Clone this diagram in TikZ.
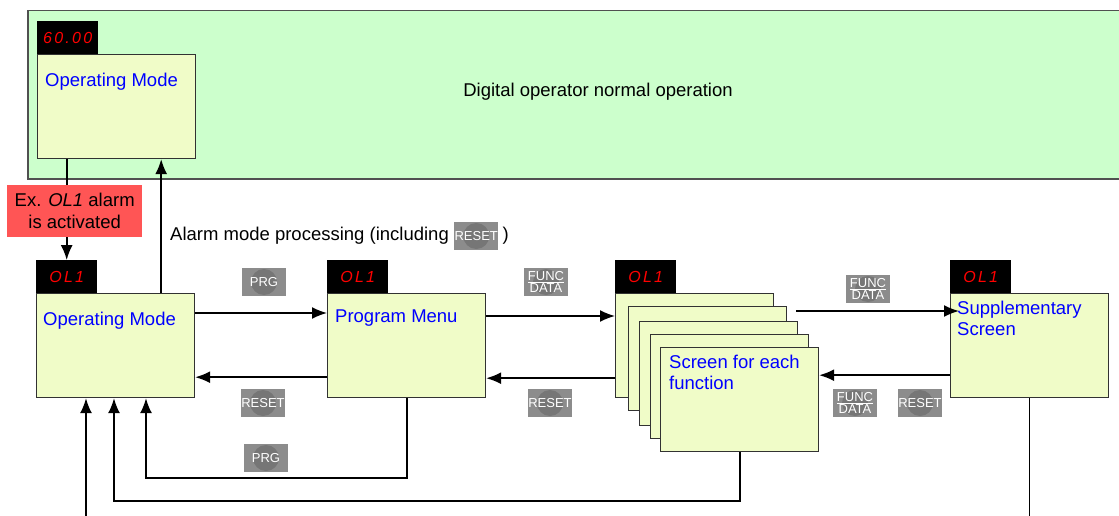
\documentclass[tikz,border=0pt]{standalone}
\usepackage{fontspec}
\setmainfont{Liberation Sans}
\usetikzlibrary{arrows.meta,positioning}

\definecolor{greenbg}{RGB}{204,255,204}
\definecolor{boxfill}{RGB}{240,252,200}
\definecolor{boxline}{RGB}{50,50,50}
\definecolor{alarmred}{RGB}{255,85,85}
\definecolor{keygray}{RGB}{140,140,140}
\definecolor{keydark}{RGB}{118,118,118}

\begin{document}
\begin{tikzpicture}[x=1pt, y=-1pt,
  disp/.style={fill=black, anchor=north west, minimum width=61pt, minimum height=33pt, inner sep=0,
    text=red, font=\fontsize{16}{18}\selectfont\itshape\addfontfeature{LetterSpace=14}},
  modebox/.style={draw=boxline, fill=boxfill, line width=1.2pt, anchor=north west,
    minimum width=158pt, minimum height=104pt, inner sep=0},
  modetext/.style={text=blue, anchor=west, align=left, inner sep=0, font=\fontsize{18.5}{21}\selectfont},
  plaintext/.style={inner sep=0, font=\fontsize{18.5}{21}\selectfont},
  keyicon/.style={fill=keygray, text=white, minimum width=44pt, minimum height=28pt, inner sep=0,
    align=center, font=\fontsize{13}{11}\selectfont,
    path picture={\fill[keydark] (path picture bounding box.center) circle (13pt);}},
  conn/.style={line width=1.6pt},
  arr/.style={line width=1.6pt, -{Latex[length=15pt,width=12pt]}}]
  \useasboundingbox (0,0) rectangle (1119,516);

  % Normal operation
  \node[draw={rgb,255:red,80;green,80;blue,80}, line width=1.5pt, fill=greenbg, anchor=north west,
    minimum width=1110pt, minimum height=168pt] (normal) at (27,10) {};
  \node[plaintext] (normaltxt) at (598,92) {Digital operator normal operation};
  \node[disp] (d1) at (37,21) {60.00};
  \node[modebox] (op1) at (37,54) {};
  \node[modetext] (op1txt) at (45,82) {Operating Mode};

  % Alarm
  \node[fill=alarmred, anchor=north west, minimum width=135pt, minimum height=52pt, inner sep=0,
    align=center, font=\fontsize{18.5}{22}\selectfont] (alarm) at (7,185) {Ex. \textit{OL1} alarm\\is activated};
  \node[plaintext, anchor=west] (alarmtxt) at (170,236) {Alarm mode processing (including};
  \node[keyicon, right=5pt of alarmtxt] (rst0) {RESET};
  \node[plaintext, right=4pt of rst0] (alarmend) {)};

  % Operating mode
  \node[disp] (d2) at (36,260) {OL1};
  \node[modebox] (op2) at (36,293) {};
  \node[modetext] (op2txt) at (43,321) {Operating Mode};

  % Program menu
  \node[disp] (d3) at (327,260) {OL1};
  \node[modebox] (prog) at (327,293) {};
  \node[modetext] (progtxt) at (335,318) {Program Menu};

  % Screens for each function
  \node[disp] (d4) at (615,260) {OL1};
  \node[modebox] (fn1) at (615,293) {};
  \node[modebox] (fn2) at (628,306) {};
  \node[modebox] (fn3) at (639,321) {};
  \node[modebox] (fn4) at (650,334) {};
  \node[modebox] (fn5) at (660,347) {};
  \node[modetext] (fntxt) at (669,372) {Screen for each\\function};

  % Supplementary screen
  \node[disp] (d5) at (950,260) {OL1};
  \node[modebox] (supp) at (950,293) {};
  \node[modetext] (supptxt) at (957,318) {Supplementary\\Screen};

  % Keys
  \node[keyicon] (prg1) at (264,282) {PRG};
  \node[keyicon] (fd1) at (546,282) {\underline{FUNC}\\DATA};
  \node[keyicon] (fd2) at (868,289) {\underline{FUNC}\\DATA};
  \node[keyicon] (rst1) at (263,403) {RESET};
  \node[keyicon] (rst2) at (550,403) {RESET};
  \node[keyicon] (fd3) at (855,403) {\underline{FUNC}\\DATA};
  \node[keyicon] (rst3) at (920,403) {RESET};
  \node[keyicon] (prg2) at (266,458) {PRG};

  % Connectors
  \draw[conn] ([xshift=30pt]op1.south west) -- ([xshift=30pt]op1.south west |- alarm.north);
  \draw[arr] (alarm.south -| d2.north) -- (d2.north);
  \draw[arr] ([xshift=-34pt]op2.north east) -- ([xshift=-35pt]op1.south east);
  \draw[arr] ([yshift=-20pt]op2.north east) -- ([yshift=-20pt]op2.north east -| prog.west);
  \draw[arr] ([yshift=21pt]prog.south west) -- ([yshift=21pt]prog.south west -| op2.east);
  \draw[arr] ([yshift=-23pt]prog.north east) -- ([yshift=-23pt]prog.north east -| fn1.west);
  \draw[arr] ([yshift=20pt]fn1.south west) -- ([yshift=20pt]fn1.south west -| prog.east);
  \draw[arr] ([shift={(9pt,-5pt)}]fn2.north east) -- ([shift={(9pt,-5pt)}]fn2.north east -| supp.west);
  \draw[arr] ([yshift=23pt]supp.south west) -- ([yshift=23pt]supp.south west -| fn5.east);
  \draw[arr] ([xshift=80pt]prog.south west) -- ++(0,80) -| ([xshift=110pt]op2.south west);
  \draw[arr] ([xshift=80pt]fn5.south west) -- ++(0,49) -| ([xshift=78pt]op2.south west);
  \coordinate (inlow) at (86,522);
  \draw[arr] (inlow) -- (inlow |- op2.south);
  \coordinate (outlow) at (1029,522);
  \draw[conn] (supp.south) -- (supp.south |- outlow);
\end{tikzpicture}
\end{document}
